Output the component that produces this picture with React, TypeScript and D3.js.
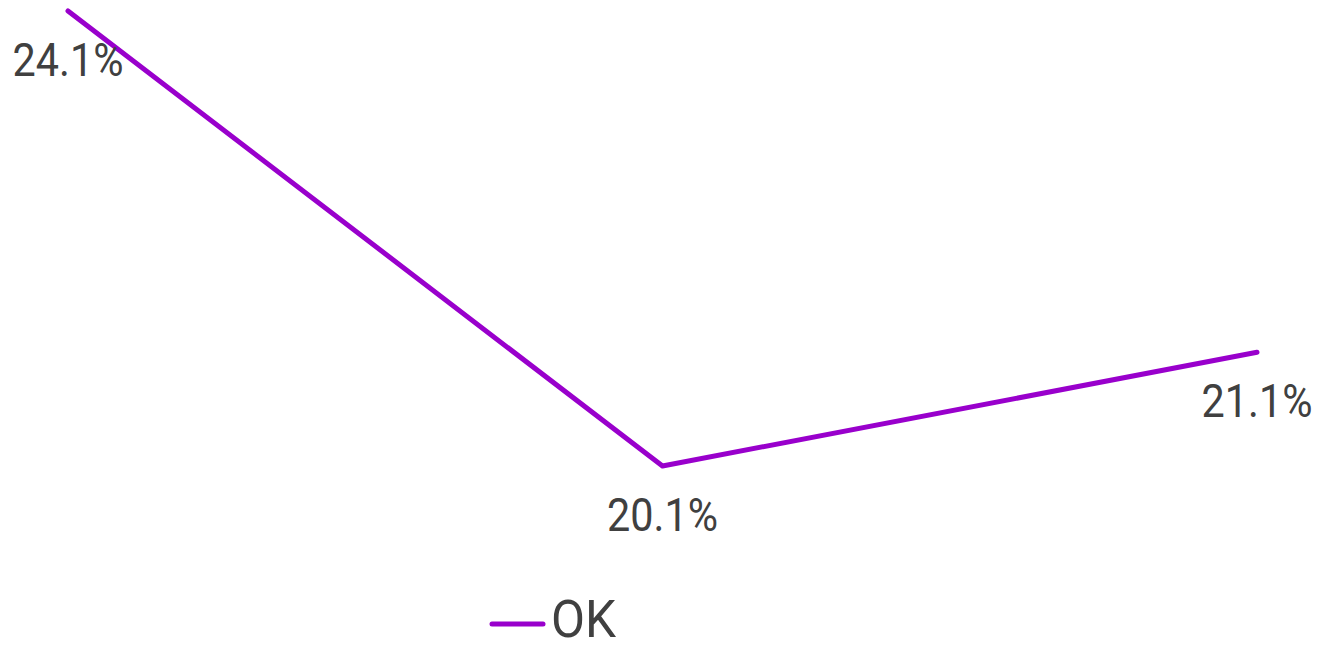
import React from "react";
import * as d3 from "d3";

const categories = ["P1", "P2", "P3"];
const okValues = [24.1, 20.1, 21.1];
const seriesName = "OK";

const W = 1318;
const H = 646;
const FONT = "'Roboto', sans-serif";

export default function App() {
  const x = d3.scalePoint<string>().domain(categories).range([68, 1257]);
  const y = d3.scaleLinear().domain([20.1, 24.1]).range([466, 11]);
  const line = d3
    .line<number>()
    .x((_, i) => x(categories[i]) as number)
    .y((d) => y(d));
  return (
    <svg
      width={W}
      height={H}
      style={{ position: "absolute", left: 0, top: 0, background: "#fff" }}
    >
      <path
        d={line(okValues) || ""}
        fill="none"
        stroke="#9900cc"
        strokeWidth={5}
        strokeLinecap="round"
        strokeLinejoin="round"
      />
      {okValues.map((v, i) => (
        <text
          key={i}
          transform={`translate(${x(categories[i])},${y(v) + 65}) scale(0.88,1)`}
          textAnchor="middle"
          fontFamily={FONT}
          fontSize={47}
          fill="#404040"
        >
          {v.toFixed(1) + "%"}
        </text>
      ))}
      <g>
        <line x1={492} x2={543} y1={624} y2={624} stroke="#9900cc" strokeWidth={5} strokeLinecap="round" />
        <text transform="translate(551,637) scale(0.97,1)" fontFamily={FONT} fontSize={51} fill="#404040">
          {seriesName}
        </text>
      </g>
    </svg>
  );
}
